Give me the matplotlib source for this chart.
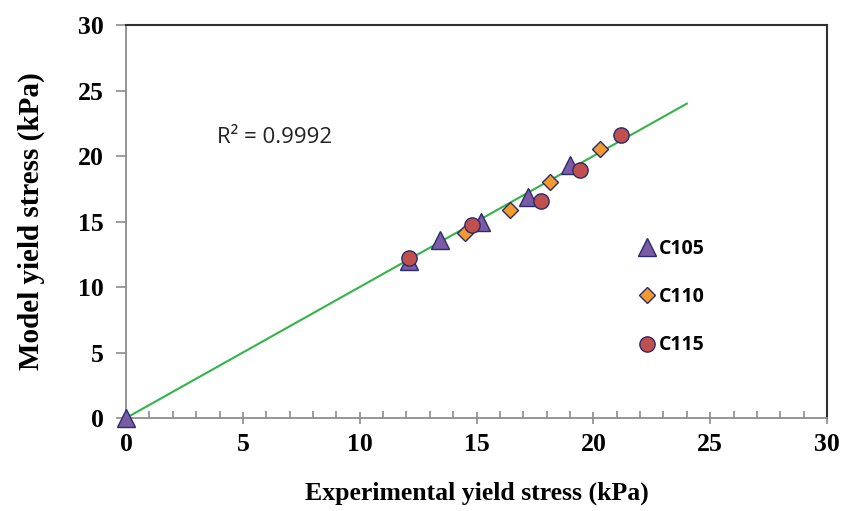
import matplotlib
matplotlib.use("Agg")
import matplotlib.pyplot as plt
from matplotlib.ticker import MultipleLocator

# Data
c105_x = [0.0, 12.1, 13.45, 15.2, 17.2, 19.0]
c105_y = [0.0, 12.0, 13.6, 15.0, 16.9, 19.3]
c110_x = [14.5, 16.45, 18.15, 20.3]
c110_y = [14.1, 15.9, 18.0, 20.5]
c115_x = [12.1, 14.8, 17.75, 19.45, 21.2]
c115_y = [12.2, 14.7, 16.6, 18.9, 21.6]
fit_x = [0.0, 24.0]
fit_y = [0.0, 24.0]
r2_text = "R² = 0.9992"
xticks = [0, 5, 10, 15, 20, 25, 30]
yticks = [0, 5, 10, 15, 20, 25, 30]

fig = plt.figure(figsize=(8.46, 5.11), dpi=100)
ax = fig.add_axes([0.149, 0.182, 0.8285, 0.769])

edge = "#2B2A6B"
ax.plot(fit_x, fit_y, color="#33B34A", lw=1.5, zorder=2)
ax.plot(c105_x, c105_y, ls="none", marker="^", ms=12.5, mfc="#7B5BA3", mec=edge, mew=1.0,
        label="C105", zorder=3, clip_on=False)
ax.plot(c110_x, c110_y, ls="none", marker="D", ms=8.5, mfc="#F39A2E", mec=edge, mew=1.0,
        label="C110", zorder=3, clip_on=False)
ax.plot(c115_x, c115_y, ls="none", marker="o", ms=11, mfc="#C0504D", mec=edge, mew=1.0,
        label="C115", zorder=4, clip_on=False)

ax.set_xlim(0, 30)
ax.set_ylim(0, 30)
ax.set_xticks(xticks)
ax.set_yticks(yticks)
ax.xaxis.set_minor_locator(MultipleLocator(1))

for s in ["left", "bottom"]:
    ax.spines[s].set_color("#8C8C8C")
    ax.spines[s].set_linewidth(1.3)
for s in ["top", "right"]:
    ax.spines[s].set_color("#303030")
    ax.spines[s].set_linewidth(1.5)

ax.tick_params(axis="x", which="major", direction="inout", length=9, width=1.2, color="#8C8C8C", pad=6)
ax.tick_params(axis="x", which="minor", direction="in", length=5, width=1.2, color="#8C8C8C")
ax.tick_params(axis="y", which="major", direction="out", length=7, width=1.2, color="#8C8C8C", pad=9)

for lab in ax.get_xticklabels() + ax.get_yticklabels():
    lab.set_fontfamily("Liberation Serif")
    lab.set_fontweight("bold")
    lab.set_fontsize(18.5)

ax.set_xlabel("Experimental yield stress (kPa)", fontfamily="Liberation Serif", fontweight="bold",
              fontsize=18.5, labelpad=19)
ax.set_ylabel("Model yield stress (kPa)", fontfamily="Liberation Serif", fontweight="bold",
              fontsize=21, labelpad=24)

ax.text(3.9, 21.4, r2_text, fontfamily="Open Sans", fontsize=16, va="center", ha="left", color="#222222")

leg = ax.legend(loc="upper left", bbox_to_anchor=(0.705, 0.5), frameon=False,
                handletextpad=0.1, labelspacing=1.45, handlelength=1.0,
                prop=dict(family="Open Sans", weight="bold", size=14))

fig.savefig("out.png", dpi=100)
